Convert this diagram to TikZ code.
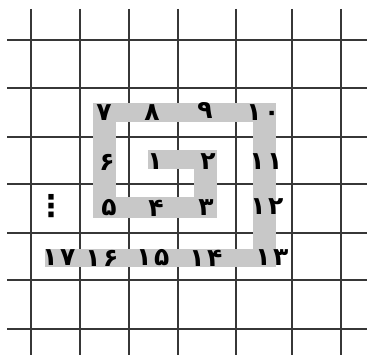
\documentclass[tikz,border=0pt]{standalone}
\usepackage{fontspec}
\newfontfamily\fadigits[Script=Arabic,LetterSpace=10]{DejaVu Sans}
\newfontfamily\dotsfont{DejaVu Sans}
\definecolor{bandgray}{RGB}{200,200,200}
\definecolor{gridgray}{RGB}{55,55,55}
\tikzset{
  gridline/.style={draw=gridgray,line width=1.3pt},
  band/.style={fill=bandgray,draw=none},
  num/.style={font=\fadigits\bfseries\fontsize{25}{25}\selectfont,inner sep=0pt,text=black},
}
\begin{document}
\begin{tikzpicture}[x=1pt,y=-1pt]
\useasboundingbox (0,0) rectangle (367,355);
% grid
\foreach \gx in {31,80,129,178,236,292,341}
  \draw[gridline] (\gx,9) -- (\gx,355);
\foreach \gy in {40,88,137,184,233,280,329}
  \draw[gridline] (7,\gy) -- (367,\gy);
% spiral band
\fill[band] (93,103) rectangle (276,122);
\fill[band] (93,103) rectangle (116,218);
\fill[band] (93,197) rectangle (217,218);
\fill[band] (194,150) rectangle (217,218);
\fill[band] (148,150) rectangle (217,169);
\fill[band] (253,103) rectangle (276,267);
\fill[band] (45,249) rectangle (276,267);
% numbers
\node[num] (n1)  at (155,162) {۱};
\node[num] (n2)  at (208,162) {۲};
\node[num] (n3)  at (206,208) {۳};
\node[num] (n4)  at (156,208) {۴};
\node[num] (n5)  at (109,208) {۵};
\node[num] (n6)  at (107,162) {۶};
\node[num] (n7)  at (104,113) {۷};
\node[num] (n8)  at (152,113) {۸};
\node[num] (n9)  at (205,111) {۹};
\node[num] (n10) at (263,113) {۱۰};
\node[num] (n11) at (266,162) {۱۱};
\node[num] (n12) at (267,207) {۱۲};
\node[num] (n13) at (272,258) {۱۳};
\node[num] (n14) at (206,258) {۱۴};
\node[num] (n15) at (153,258) {۱۵};
\node[num] (n16) at (102,258) {۱۶};
\node[num] (n17) at (59,258) {۱۷};
\node[font=\dotsfont\bfseries\fontsize{30}{30}\selectfont,inner sep=0pt] (vdots) at (51,206) {⋮};
\end{tikzpicture}
\end{document}
